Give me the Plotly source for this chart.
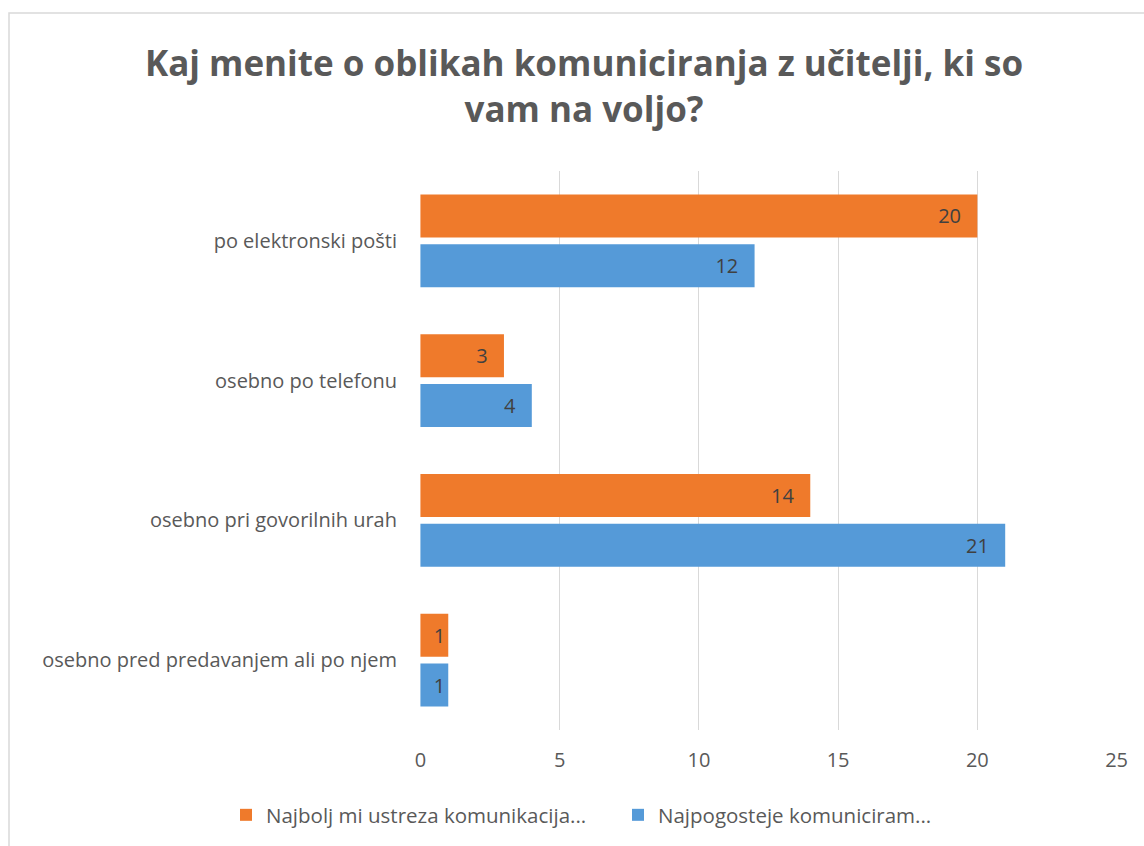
import plotly.graph_objects as go

categories = [
    "po elektronski pošti",
    "osebno po telefonu",
    "osebno pri govorilnih urah",
    "osebno pred predavanjem ali po njem",
]
najbolj_ustreza = [20, 3, 14, 1]
najpogosteje = [12, 4, 21, 1]
series_names = ["Najbolj mi ustreza komunikacija...", "Najpogosteje komuniciram..."]
x_ticks = [0, 5, 10, 15, 20, 25]
title_text = "Kaj menite o oblikah komuniciranja z učitelji, ki so<br>vam na voljo?"

W, H = 1144, 846
L, R, T, B = 420, 27, 171, 116
pw, ph = W - L - R, H - T - B

FONT = "Open Sans"
GREY = "#595959"


def labels(vals):
    # inside-end labels with Excel-like right padding (none for very short bars)
    return [f"{v}\u2002\u2009" if v > 2 else f"{v}" for v in vals]


fig = go.Figure()
fig.add_trace(go.Bar(
    y=categories, x=najpogosteje, orientation="h", name=series_names[1],
    marker=dict(color="#559AD8", line=dict(width=0)),
    text=labels(najpogosteje), textposition="inside", insidetextanchor="end",
    textangle=0, textfont=dict(family=FONT, size=20, color="#404040"),
    constraintext="none", legendrank=2,
))
fig.add_trace(go.Bar(
    y=categories, x=najbolj_ustreza, orientation="h", name=series_names[0],
    marker=dict(color="#EF7A2B", line=dict(width=0)),
    text=labels(najbolj_ustreza), textposition="inside", insidetextanchor="end",
    textangle=0, textfont=dict(family=FONT, size=20, color="#404040"),
    constraintext="none", legendrank=1,
))


def px_x(px):
    return (px - L) / pw


def px_y(py):
    return (H - B - py) / ph


fig.update_layout(
    width=W, height=H,
    margin=dict(l=L, r=R, t=T, b=B, autoexpand=False),
    paper_bgcolor="white", plot_bgcolor="white",
    barmode="group", bargap=0.286, bargroupgap=0.14,
    font=dict(family=FONT, color=GREY),
    title=dict(text=title_text, x=584 / W, xanchor="center", xref="container",
               y=1 - 76 / H, yanchor="middle", yref="container",
               font=dict(family=FONT, size=35, color=GREY, weight="bold")),
    xaxis=dict(range=[-0.015, 25.015], tickvals=x_ticks, showgrid=True, gridcolor="#D9D9D9",
               gridwidth=1.3, zeroline=False, showline=False,
               tickfont=dict(family=FONT, size=20, color=GREY), ticklabelstandoff=16),
    yaxis=dict(categoryorder="array", categoryarray=categories[::-1],
               showgrid=False, showline=False, zeroline=False,
               tickfont=dict(family=FONT, size=20, color=GREY), ticklabelstandoff=22),
    legend=dict(orientation="h", x=px_x(226), xanchor="left", y=px_y(815), yanchor="middle",
                font=dict(family=FONT, size=20.5, color=GREY), traceorder="normal",
                itemwidth=30, entrywidth=347),
    showlegend=True,
    shapes=[dict(type="rect", xref="paper", yref="paper",
                 x0=px_x(9), x1=px_x(1220), y0=px_y(870), y1=px_y(13),
                 line=dict(color="#D9D9D9", width=1.5), fillcolor="rgba(0,0,0,0)", layer="below")],
)

fig.write_html("out.html", config={"displayModeBar": False},
               post_script="document.body.style.margin='0';document.body.style.overflow='hidden';")
